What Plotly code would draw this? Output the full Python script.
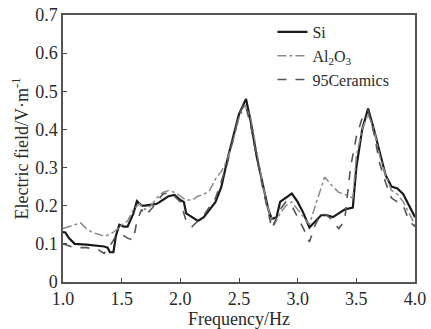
import plotly.graph_objects as go

si_x = [1.0, 1.02, 1.05, 1.1, 1.2, 1.3, 1.35, 1.38, 1.4, 1.43, 1.45, 1.48, 1.52, 1.55, 1.6, 1.63, 1.67, 1.7, 1.8, 1.85, 1.9, 1.95, 2.0, 2.03, 2.05, 2.1, 2.15, 2.2, 2.25, 2.3, 2.35, 2.4, 2.45, 2.5, 2.56, 2.6, 2.65, 2.7, 2.75, 2.78, 2.82, 2.85, 2.9, 2.95, 3.0, 3.05, 3.1, 3.15, 3.2, 3.25, 3.3, 3.35, 3.4, 3.47, 3.5, 3.55, 3.6, 3.65, 3.7, 3.75, 3.8, 3.85, 3.9, 3.95, 4.0]
si_y = [0.131, 0.13, 0.115, 0.10, 0.098, 0.095, 0.093, 0.09, 0.078, 0.078, 0.12, 0.15, 0.145, 0.145, 0.18, 0.212, 0.20, 0.20, 0.205, 0.215, 0.225, 0.228, 0.215, 0.21, 0.18, 0.17, 0.16, 0.17, 0.19, 0.21, 0.25, 0.32, 0.38, 0.44, 0.48, 0.42, 0.33, 0.26, 0.19, 0.165, 0.17, 0.21, 0.22, 0.232, 0.21, 0.18, 0.143, 0.16, 0.175, 0.175, 0.17, 0.18, 0.19, 0.195, 0.30, 0.40, 0.455, 0.40, 0.34, 0.28, 0.25, 0.245, 0.23, 0.20, 0.17]

al_x = [1.0, 1.05, 1.1, 1.15, 1.2, 1.25, 1.3, 1.35, 1.4, 1.45, 1.5, 1.55, 1.6, 1.65, 1.7, 1.75, 1.8, 1.85, 1.9, 1.95, 2.0, 2.05, 2.1, 2.15, 2.2, 2.25, 2.3, 2.35, 2.4, 2.45, 2.5, 2.55, 2.6, 2.65, 2.7, 2.75, 2.8, 2.85, 2.9, 2.95, 3.0, 3.05, 3.1, 3.15, 3.2, 3.23, 3.3, 3.35, 3.4, 3.47, 3.5, 3.55, 3.6, 3.65, 3.7, 3.75, 3.8, 3.85, 3.9, 3.95, 4.0]
al_y = [0.14, 0.145, 0.15, 0.155, 0.14, 0.13, 0.125, 0.12, 0.125, 0.135, 0.15, 0.16, 0.19, 0.205, 0.19, 0.20, 0.22, 0.235, 0.24, 0.235, 0.225, 0.215, 0.215, 0.225, 0.23, 0.24, 0.27, 0.29, 0.32, 0.37, 0.43, 0.465, 0.43, 0.34, 0.26, 0.19, 0.15, 0.18, 0.20, 0.21, 0.19, 0.17, 0.15, 0.20, 0.25, 0.275, 0.25, 0.235, 0.23, 0.22, 0.33, 0.40, 0.44, 0.40, 0.33, 0.28, 0.24, 0.23, 0.21, 0.18, 0.15]

ce_x = [1.0, 1.05, 1.1, 1.2, 1.3, 1.35, 1.4, 1.45, 1.5, 1.55, 1.6, 1.63, 1.67, 1.7, 1.75, 1.8, 1.85, 1.9, 1.95, 2.0, 2.05, 2.1, 2.15, 2.2, 2.3, 2.4, 2.5, 2.55, 2.6, 2.7, 2.78, 2.85, 2.9, 2.95, 3.0, 3.05, 3.1, 3.15, 3.2, 3.25, 3.3, 3.35, 3.4, 3.45, 3.5, 3.55, 3.6, 3.65, 3.7, 3.75, 3.8, 3.85, 3.9, 3.95, 4.0]
ce_y = [0.10, 0.095, 0.09, 0.09, 0.085, 0.075, 0.095, 0.12, 0.125, 0.115, 0.11, 0.16, 0.19, 0.175, 0.19, 0.21, 0.23, 0.235, 0.225, 0.21, 0.16, 0.145, 0.16, 0.175, 0.22, 0.31, 0.44, 0.47, 0.41, 0.25, 0.14, 0.19, 0.21, 0.20, 0.17, 0.14, 0.105, 0.15, 0.18, 0.175, 0.16, 0.14, 0.16, 0.30, 0.38, 0.43, 0.45, 0.39, 0.31, 0.26, 0.22, 0.21, 0.20, 0.16, 0.145]

x_ticks = [1.0, 1.5, 2.0, 2.5, 3.0, 3.5, 4.0]
x_labels = ["1.0", "1.5", "2.0", "2.5", "3.0", "3.5", "4.0"]
y_ticks = [0, 0.1, 0.2, 0.3, 0.4, 0.5, 0.6, 0.7]
y_labels = ["0", "0.1", "0.2", "0.3", "0.4", "0.5", "0.6", "0.7"]

font = "Liberation Serif, Times New Roman, serif"
txt = "#2a2a2a"

fig = go.Figure()
fig.add_trace(go.Scatter(x=si_x, y=si_y, mode="lines", name="Si",
                         line=dict(color="#1a1a1a", width=2.2)))
fig.add_trace(go.Scatter(x=al_x, y=al_y, mode="lines", name="Al<sub>2</sub>O<sub>3</sub>",
                         line=dict(color="#8a8a8a", width=1.5, dash="dashdot")))
fig.add_trace(go.Scatter(x=ce_x, y=ce_y, mode="lines", name="95Ceramics",
                         line=dict(color="#555555", width=1.6, dash="dash")))

fig.update_layout(
    width=431, height=329,
    margin=dict(l=63, r=16, t=15, b=47),
    paper_bgcolor="white", plot_bgcolor="white",
    font=dict(family=font, size=17, color=txt),
    showlegend=True,
    legend=dict(x=0.595, y=1.0, xanchor="left", yanchor="top",
                bgcolor="rgba(0,0,0,0)", font=dict(size=16, family=font, color=txt),
                tracegroupgap=0, itemwidth=30),
    xaxis=dict(range=[1.0, 4.0], tickvals=x_ticks, ticktext=x_labels,
               ticks="inside", ticklen=4, showgrid=False, zeroline=False,
               showline=True, linecolor="#555555", linewidth=1.5, mirror=True,
               automargin=False,
               title=dict(text="Frequency/Hz", font=dict(size=18, family=font, color=txt), standoff=2),
               tickfont=dict(size=18, family=font, color=txt)),
    yaxis=dict(range=[0, 0.7], tickvals=y_ticks, ticktext=y_labels,
               ticks="inside", ticklen=4, showgrid=False, zeroline=False,
               showline=True, linecolor="#555555", linewidth=1.5, mirror=True,
               automargin=False,
               title=dict(text="Electric field/V·m<sup>-1</sup>", font=dict(size=18, family=font, color=txt), standoff=2),
               tickfont=dict(size=18, family=font, color=txt)),
)

fig.write_html("out.html")
